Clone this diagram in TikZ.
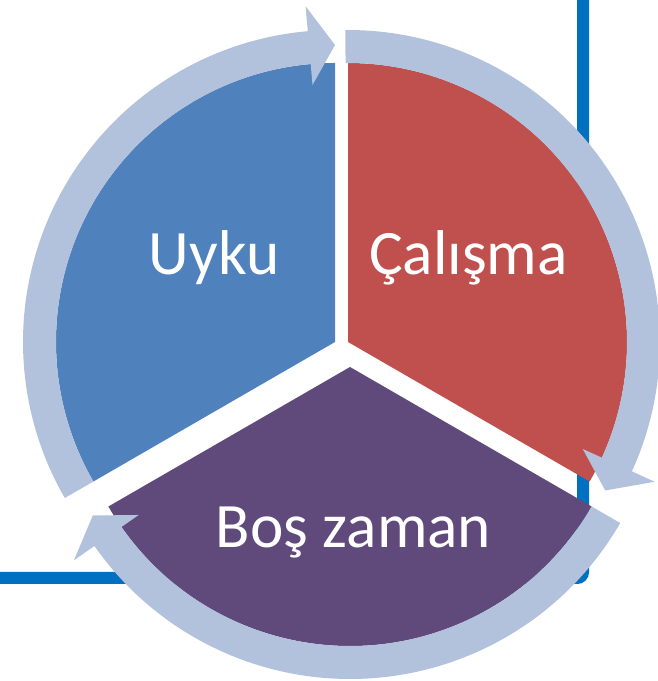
\documentclass[tikz,border=0pt]{standalone}
\usepackage{fontspec}
\setmainfont{Carlito}
\definecolor{uykublue}{HTML}{4F81BD}
\definecolor{calismared}{HTML}{C0504D}
\definecolor{bospurple}{HTML}{5F4A7B}
\definecolor{ringblue}{HTML}{B3C2DC}
\definecolor{frameblue}{HTML}{0070C0}
\begin{document}
\begin{tikzpicture}[
  ring/.style={fill=ringblue},
  lbl/.style={text=white,font=\fontsize{18}{21}\selectfont,anchor=base,inner sep=0pt}]
\useasboundingbox (0,0) rectangle (6.58,6.81);
\draw [frameblue,line width=0.12cm,rounded corners=0.06cm] (5.83,7.2) to (5.83,1.03) to (-0.3,1.03);

\coordinate (u) at (3.35,3.39);
\coordinate (c) at (3.48,3.39);
\coordinate (b) at (3.50,3.14);

\fill [uykublue] (u) -- ++(90:2.79) arc[start angle=90,end angle=210,radius=2.79] -- cycle;
\fill [calismared] (c) -- ++(-30:2.79) arc[start angle=-30,end angle=90,radius=2.79] -- cycle;
\fill [bospurple] (b) -- ++(210:2.79) arc[start angle=210,end angle=330,radius=2.79] -- cycle;

\fill [ring] ([shift={(210:2.79)}]u) arc[start angle=210,end angle=95,radius=2.79]
  -- ([shift={(95:2.58)}]u) -- ([shift={(90:2.97)}]u) -- ([shift={(95:3.37)}]u)
  -- ([shift={(95:3.12)}]u) arc[start angle=95,end angle=210,radius=3.12] -- cycle;
\fill [ring] ([shift={(90.5:2.79)}]c) arc[start angle=90.5,end angle=-24.5,radius=2.79]
  -- ([shift={(-24.5:2.58)}]c) -- ([shift={(-30:2.97)}]c) -- ([shift={(-24.5:3.37)}]c)
  -- ([shift={(-24.5:3.12)}]c) arc[start angle=-24.5,end angle=90.5,radius=3.12] -- cycle;
\fill [ring] ([shift={(330:2.79)}]b) arc[start angle=330,end angle=215,radius=2.79]
  -- ([shift={(215:2.58)}]b) -- ([shift={(210:2.97)}]b) -- ([shift={(215:3.37)}]b)
  -- ([shift={(215:3.12)}]b) arc[start angle=215,end angle=330,radius=3.12] -- cycle;

\node [lbl] (uyku) at (2.14,4.06) {Uyku};
\node [lbl] (calisma) at (4.685,4.06) {Çalışma};
\node [lbl] (boszaman) at (3.535,1.33) {Boş zaman};
\end{tikzpicture}
\end{document}
